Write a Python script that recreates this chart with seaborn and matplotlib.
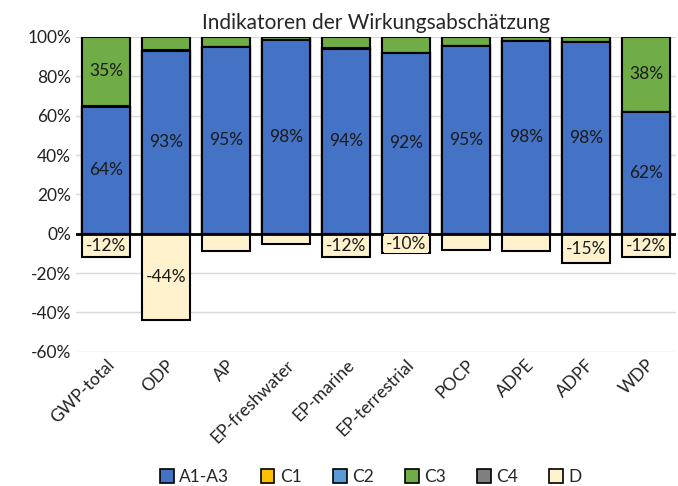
import matplotlib
matplotlib.use('Agg')
import matplotlib.pyplot as plt
import matplotlib.patches as mpatches
from matplotlib.ticker import FuncFormatter
import seaborn as sns
import pandas as pd
import numpy as np

categories = ['GWP-total', 'ODP', 'AP', 'EP-freshwater', 'EP-marine',
              'EP-terrestrial', 'POCP', 'ADPE', 'ADPF', 'WDP']
a1_a3 = [64.4, 93, 95, 98.5, 94, 92, 95.4, 98, 97.5, 62]
c1 = [0, 0, 0, 0, 0, 0, 0, 0, 0, 0]
c2 = [0.6, 0.2, 0, 0, 0.5, 0, 0, 0, 0, 0]
c3 = [35, 6.8, 5, 1.5, 5.5, 8, 4.6, 2, 2.5, 38]
c4 = [0, 0, 0, 0, 0, 0, 0, 0, 0, 0]
d = [-12, -44, -9, -5, -12, -10, -8.5, -9, -15, -12]

series = ['A1-A3', 'C1', 'C2', 'C3', 'C4', 'D']
colors = {'A1-A3': '#4472C4', 'C1': '#FFC000', 'C2': '#5B9BD5',
          'C3': '#70AD47', 'C4': '#7F7F7F', 'D': '#FFF2CC'}

df = pd.DataFrame({'cat': categories, 'A1-A3': a1_a3, 'C1': c1, 'C2': c2,
                   'C3': c3, 'C4': c4, 'D': d})

sns.set_style('white')
plt.rcParams['font.family'] = ['Lato', 'DejaVu Sans']

fig = plt.figure(figsize=(6.78, 4.86), dpi=100)
ax = fig.add_axes([0.112, 0.276, 0.885, 0.648])

# stacked positive part: draw cumulative totals from the top down
pos = ['A1-A3', 'C1', 'C2', 'C3', 'C4']
cum = df[pos].cumsum(axis=1)
for s in reversed(pos):
    sns.barplot(x=df['cat'], y=cum[s], color=colors[s], ax=ax, width=0.8,
                edgecolor='black', linewidth=1.5, saturation=1, zorder=3)
sns.barplot(x=df['cat'], y=df['D'], color=colors['D'], ax=ax, width=0.8,
            edgecolor='black', linewidth=1.5, saturation=1, zorder=3)

# data labels (only for segments of at least 10 %)
for i in range(len(categories)):
    base = 0
    for s in pos:
        v = df[s][i]
        if v >= 10:
            ax.text(i, base + v / 2, f'{v:.0f}%', ha='center', va='center',
                    fontsize=12.5, color='#1a1a1a', zorder=5)
        base += v
    v = df['D'][i]
    if abs(v) >= 10:
        ax.text(i, v / 2, f'{v:.0f}%', ha='center', va='center', fontsize=12.5,
                color='#1a1a1a', zorder=5,
                bbox=dict(boxstyle='square,pad=0.08', fc=colors['D'], ec='none'))

ax.set_ylim(-60, 100)
ax.set_xlim(-0.5, len(categories) - 0.5)
ax.set_yticks(range(-60, 101, 20))
ax.yaxis.set_major_formatter(FuncFormatter(lambda v, p: f'{v:.0f}%'))
ax.grid(axis='y', color='#D9D9D9', linewidth=1, zorder=0)
ax.axhline(0, color='black', linewidth=2, zorder=4)
for sp in ax.spines.values():
    sp.set_visible(False)
ax.tick_params(axis='both', length=0, labelsize=12.5, colors='#222222')
ax.set_xticklabels(categories, rotation=45, ha='right', rotation_mode='anchor')
ax.set_xlabel('')
ax.set_ylabel('')
ax.set_title('Indikatoren der Wirkungsabschätzung', fontsize=15, pad=6)

handles = [mpatches.Patch(facecolor=colors[s], edgecolor='black', linewidth=1.2,
                          label=s) for s in series]
fig.legend(handles=handles, loc='lower center', bbox_to_anchor=(0.547, -0.03),
           ncol=6, frameon=False, fontsize=12.5, handlelength=0.8,
           handleheight=0.8, handletextpad=0.3, columnspacing=1.8)

fig.savefig('out.png', dpi=100)
